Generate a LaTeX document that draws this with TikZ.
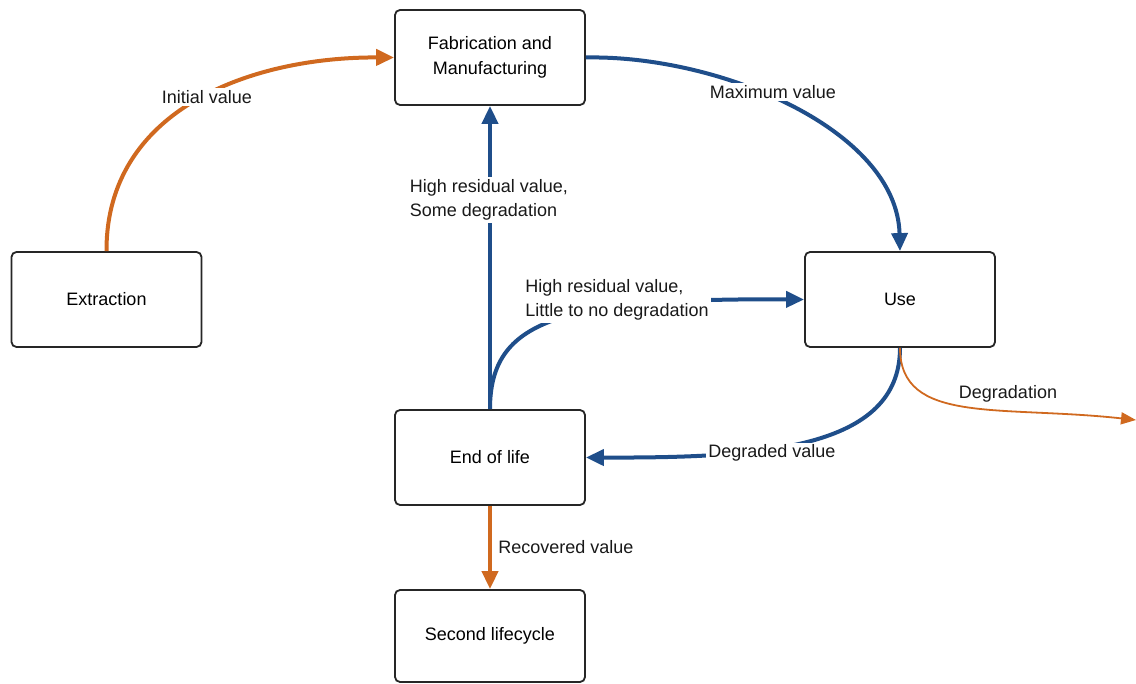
\documentclass[tikz,border=0pt]{standalone}
\usepackage{fontspec}
\setmainfont{Liberation Sans}
\usetikzlibrary{arrows.meta}
\definecolor{cblue}{HTML}{1F4E8A}
\definecolor{corange}{HTML}{D0691F}
\begin{document}
\begin{tikzpicture}[x=1pt,y=-1pt,
  font=\fontsize{18}{24.5}\selectfont,
  box/.style={draw=black!85, line width=1.8pt, rounded corners=5pt, fill=white,
    minimum width=190pt, minimum height=95pt, align=center, inner sep=0pt},
  bluearr/.style={draw=cblue, line width=4pt, -{Triangle[length=18pt,width=16pt]}},
  orarr/.style={draw=corange, line width=4pt, -{Triangle[length=18pt,width=16pt]}},
  thinor/.style={draw=corange, line width=1.8pt, -{Triangle[length=15pt,width=12pt]}},
  lbl/.style={fill=white, inner sep=2pt, align=left, text=black!90}
]
\useasboundingbox (0,0) rectangle (1136,684);
\node[box] (fab) at (490,57.5) {Fabrication and\\Manufacturing};
\node[box] (ext) at (106.5,299.5) {Extraction};
\node[box] (use) at (900,299.5) {Use};
\node[box] (eol) at (490,457.5) {End of life};
\node[box, minimum height=92pt] (sec) at (490,636) {Second lifecycle};

\draw[orarr] (ext.north) .. controls (106,110) and (250,57) .. (fab.west);
\draw[bluearr] (fab.east) .. controls (720,55) and (897,130) .. (use.north);
\draw[bluearr] (eol.north) -- (fab.south);
\draw[bluearr] (eol.north) .. controls (490,320) and (560,298) .. (use.west);
\draw[bluearr] (use.south) .. controls (900,450) and (760,458) .. (eol.east);
\draw[thinor] (use.south) .. controls (900,425) and (1000,405) .. (1136,420) coordinate (degend);
\draw[orarr] (eol.south) -- (sec.north);

\node[lbl] (l1) at (207,97) {Initial value};
\node[lbl] (l2) at (773,92) {Maximum value};
\node[lbl] (l3) at (489,200) {High residual value,\\Some degradation};
\node[lbl] (l4) at (617,300) {High residual value,\\Little to no degradation};
\node[lbl] (l5) at (772,453) {Degraded value};
\node[align=left, text=black!90] (l6) at (1008,394) {Degradation};
\node[align=left, text=black!90] (l7) at (566,547) {Recovered value};
\end{tikzpicture}
\end{document}
